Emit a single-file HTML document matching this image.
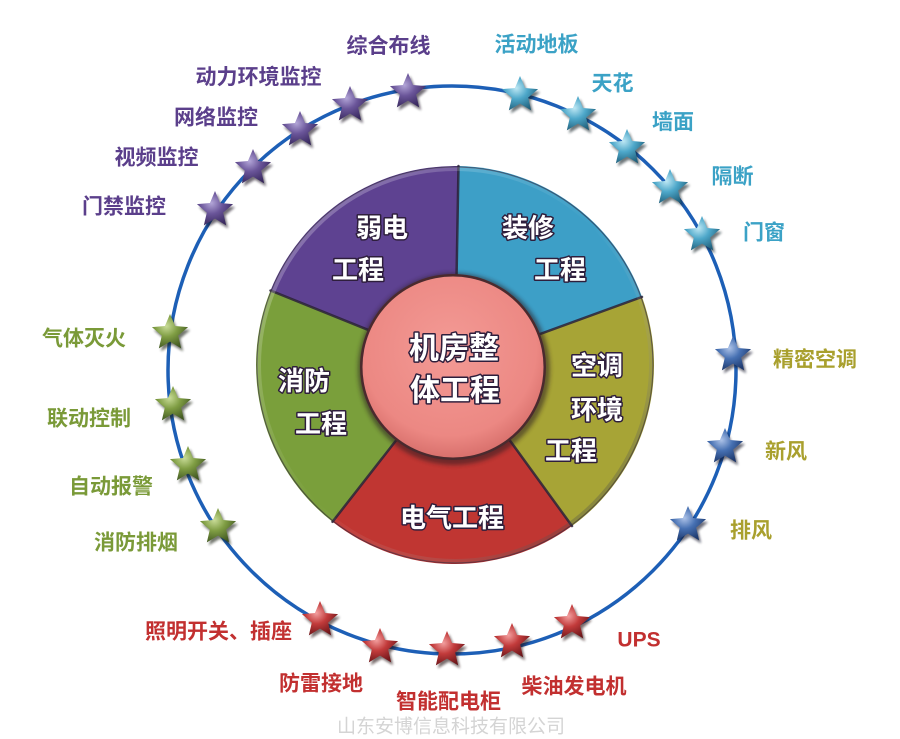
<!DOCTYPE html>
<html><head><meta charset="utf-8">
<style>
html,body{margin:0;padding:0;background:#fff}
svg{display:block}
.seg{font-family:"Liberation Sans","Noto Sans CJK SC",sans-serif;font-weight:700;font-size:26px;fill:#fff;stroke:#2e1e3c;stroke-width:3;paint-order:stroke;stroke-linejoin:round;text-anchor:middle;dominant-baseline:central}
.ctr{font-size:30px}
.l{font-family:"Liberation Sans","Noto Sans CJK SC",sans-serif;font-weight:700;font-size:21px;text-anchor:middle;dominant-baseline:central}
.wm{font-family:"Liberation Sans","Noto Sans CJK SC",sans-serif;font-weight:400;font-size:19px;fill:#d4d4d4;text-anchor:middle;dominant-baseline:central}
</style></head>
<body>
<svg width="900" height="739" viewBox="0 0 900 739" xmlns="http://www.w3.org/2000/svg">
<defs>
  <path id="st" d="M0,-19 L5.05,-6.96 L18.07,-5.87 L8.18,2.66 L11.17,15.37 L0,8.6 L-11.17,15.37 L-8.18,2.66 L-18.07,-5.87 L-5.05,-6.96Z"/>
  <filter id="sh" x="-50%" y="-50%" width="200%" height="200%"><feGaussianBlur stdDeviation="1.4"/></filter>
  <filter id="cs" x="-20%" y="-20%" width="140%" height="140%"><feGaussianBlur stdDeviation="2"/></filter>
  <radialGradient id="gP" cx="40%" cy="35%" r="70%"><stop offset="0" stop-color="#b3a6d8"/><stop offset=".45" stop-color="#6a5599"/><stop offset="1" stop-color="#35265a"/></radialGradient>
  <radialGradient id="gT" cx="40%" cy="35%" r="70%"><stop offset="0" stop-color="#bfe8f4"/><stop offset=".45" stop-color="#4ea8ca"/><stop offset="1" stop-color="#1f5d78"/></radialGradient>
  <radialGradient id="gG" cx="40%" cy="35%" r="70%"><stop offset="0" stop-color="#c9dc98"/><stop offset=".45" stop-color="#7f9d43"/><stop offset="1" stop-color="#3e5420"/></radialGradient>
  <radialGradient id="gB" cx="40%" cy="35%" r="70%"><stop offset="0" stop-color="#aec3e8"/><stop offset=".45" stop-color="#4670b2"/><stop offset="1" stop-color="#1b3568"/></radialGradient>
  <radialGradient id="gR" cx="40%" cy="35%" r="70%"><stop offset="0" stop-color="#f3a0a0"/><stop offset=".45" stop-color="#c23b3b"/><stop offset="1" stop-color="#681418"/></radialGradient>
  <radialGradient id="pk" cx="48%" cy="40%" r="60%"><stop offset="0" stop-color="#f39a95"/><stop offset=".8" stop-color="#ec8883"/><stop offset="1" stop-color="#d9716d"/></radialGradient>
  <linearGradient id="rim" x1="0" y1="0" x2="1" y2="1"><stop offset="0" stop-color="#fff" stop-opacity=".35"/><stop offset=".5" stop-color="#fff" stop-opacity="0"/><stop offset="1" stop-color="#000" stop-opacity=".45"/></linearGradient>
</defs>

<!-- outer ring -->
<circle cx="452" cy="370" r="284" fill="none" stroke="#1d5fb6" stroke-width="3.5"/>

<!-- pie -->
<g>
  <path d="M455,365 L270.5,290.5 A199,199 0 0,1 458.5,166 Z" fill="#5e4291"/>
  <path d="M455,365 L458.5,166 A199,199 0 0,1 642,296.9 Z" fill="#3d9fc7"/>
  <path d="M455,365 L642,296.9 A199,199 0 0,1 572,526 Z" fill="#a7a436"/>
  <path d="M455,365 L572,526 A199,199 0 0,1 332.5,521.8 Z" fill="#c03632"/>
  <path d="M455,365 L332.5,521.8 A199,199 0 0,1 270.5,290.5 Z" fill="#7a9f3b"/>
</g>
<g stroke="#2b2238" stroke-width="2.5" stroke-linecap="round" opacity=".85">
  <line x1="455" y1="365" x2="270.5" y2="290.5"/>
  <line x1="455" y1="365" x2="458.5" y2="166"/>
  <line x1="455" y1="365" x2="642" y2="296.9"/>
  <line x1="455" y1="365" x2="572" y2="526"/>
  <line x1="455" y1="365" x2="332.5" y2="521.8"/>
</g>
<circle cx="455" cy="365" r="198" fill="none" stroke="#2b2238" stroke-width="1.2" opacity=".6"/>
<circle cx="455" cy="365" r="196" fill="none" stroke="url(#rim)" stroke-width="4"/>

<!-- center circle -->
<circle cx="454" cy="369" r="96" fill="#2a1a22" opacity=".55" filter="url(#cs)"/>
<circle cx="453" cy="367" r="93" fill="#4a2a2e"/>
<circle cx="453" cy="367" r="90.5" fill="url(#pk)"/>

<!-- segment texts -->
<text class="seg" x="382" y="228">弱电</text>
<text class="seg" x="358" y="270">工程</text>
<text class="seg" x="528" y="228">装修</text>
<text class="seg" x="560" y="270">工程</text>
<text class="seg" x="597" y="366">空调</text>
<text class="seg" x="597" y="410">环境</text>
<text class="seg" x="571" y="451">工程</text>
<text class="seg" x="304" y="381">消防</text>
<text class="seg" x="321" y="424">工程</text>
<text class="seg" x="452" y="518">电气工程</text>
<text class="seg ctr" x="454" y="349">机房整</text>
<text class="seg ctr" x="455" y="391">体工程</text>

<!-- stars -->
<g>
  <g transform="translate(215,210)"><use href="#st" fill="#140c1c" opacity=".6" transform="translate(2,3)" filter="url(#sh)"/><use href="#st" fill="url(#gP)"/></g>
  <g transform="translate(253,168)"><use href="#st" fill="#140c1c" opacity=".6" transform="translate(2,3)" filter="url(#sh)"/><use href="#st" fill="url(#gP)"/></g>
  <g transform="translate(300,130)"><use href="#st" fill="#140c1c" opacity=".6" transform="translate(2,3)" filter="url(#sh)"/><use href="#st" fill="url(#gP)"/></g>
  <g transform="translate(350,105)"><use href="#st" fill="#140c1c" opacity=".6" transform="translate(2,3)" filter="url(#sh)"/><use href="#st" fill="url(#gP)"/></g>
  <g transform="translate(408,92)"><use href="#st" fill="#140c1c" opacity=".6" transform="translate(2,3)" filter="url(#sh)"/><use href="#st" fill="url(#gP)"/></g>

  <g transform="translate(520,95)"><use href="#st" fill="#0c1a20" opacity=".6" transform="translate(2,3)" filter="url(#sh)"/><use href="#st" fill="url(#gT)"/></g>
  <g transform="translate(578,115)"><use href="#st" fill="#0c1a20" opacity=".6" transform="translate(2,3)" filter="url(#sh)"/><use href="#st" fill="url(#gT)"/></g>
  <g transform="translate(627,148)"><use href="#st" fill="#0c1a20" opacity=".6" transform="translate(2,3)" filter="url(#sh)"/><use href="#st" fill="url(#gT)"/></g>
  <g transform="translate(670,188)"><use href="#st" fill="#0c1a20" opacity=".6" transform="translate(2,3)" filter="url(#sh)"/><use href="#st" fill="url(#gT)"/></g>
  <g transform="translate(702,235)"><use href="#st" fill="#0c1a20" opacity=".6" transform="translate(2,3)" filter="url(#sh)"/><use href="#st" fill="url(#gT)"/></g>

  <g transform="translate(170,333)"><use href="#st" fill="#141a0c" opacity=".6" transform="translate(2,3)" filter="url(#sh)"/><use href="#st" fill="url(#gG)"/></g>
  <g transform="translate(173,405)"><use href="#st" fill="#141a0c" opacity=".6" transform="translate(2,3)" filter="url(#sh)"/><use href="#st" fill="url(#gG)"/></g>
  <g transform="translate(188,465)"><use href="#st" fill="#141a0c" opacity=".6" transform="translate(2,3)" filter="url(#sh)"/><use href="#st" fill="url(#gG)"/></g>
  <g transform="translate(218,527)"><use href="#st" fill="#141a0c" opacity=".6" transform="translate(2,3)" filter="url(#sh)"/><use href="#st" fill="url(#gG)"/></g>

  <g transform="translate(733,355)"><use href="#st" fill="#0c1020" opacity=".6" transform="translate(2,3)" filter="url(#sh)"/><use href="#st" fill="url(#gB)"/></g>
  <g transform="translate(725,447)"><use href="#st" fill="#0c1020" opacity=".6" transform="translate(2,3)" filter="url(#sh)"/><use href="#st" fill="url(#gB)"/></g>
  <g transform="translate(688,525)"><use href="#st" fill="#0c1020" opacity=".6" transform="translate(2,3)" filter="url(#sh)"/><use href="#st" fill="url(#gB)"/></g>

  <g transform="translate(320,620)"><use href="#st" fill="#200c0c" opacity=".6" transform="translate(2,3)" filter="url(#sh)"/><use href="#st" fill="url(#gR)"/></g>
  <g transform="translate(380,647)"><use href="#st" fill="#200c0c" opacity=".6" transform="translate(2,3)" filter="url(#sh)"/><use href="#st" fill="url(#gR)"/></g>
  <g transform="translate(447,650)"><use href="#st" fill="#200c0c" opacity=".6" transform="translate(2,3)" filter="url(#sh)"/><use href="#st" fill="url(#gR)"/></g>
  <g transform="translate(512,642)"><use href="#st" fill="#200c0c" opacity=".6" transform="translate(2,3)" filter="url(#sh)"/><use href="#st" fill="url(#gR)"/></g>
  <g transform="translate(572,623)"><use href="#st" fill="#200c0c" opacity=".6" transform="translate(2,3)" filter="url(#sh)"/><use href="#st" fill="url(#gR)"/></g>
</g>

<!-- labels -->
<text class="l" x="388.5" y="46.5" fill="#5b3f8b">综合布线</text>
<text class="l" x="258.5" y="77.5" fill="#5b3f8b">动力环境监控</text>
<text class="l" x="216" y="118" fill="#5b3f8b">网络监控</text>
<text class="l" x="156.5" y="158" fill="#5b3f8b">视频监控</text>
<text class="l" x="124" y="207" fill="#5b3f8b">门禁监控</text>

<text class="l" x="536.5" y="45" fill="#3ba2c6">活动地板</text>
<text class="l" x="612.5" y="84" fill="#3ba2c6">天花</text>
<text class="l" x="673" y="122.5" fill="#3ba2c6">墙面</text>
<text class="l" x="732.5" y="177" fill="#3ba2c6">隔断</text>
<text class="l" x="764" y="233" fill="#3ba2c6">门窗</text>

<text class="l" x="84" y="339" fill="#7a9a38">气体灭火</text>
<text class="l" x="89" y="419" fill="#7a9a38">联动控制</text>
<text class="l" x="111" y="487" fill="#7a9a38">自动报警</text>
<text class="l" x="136" y="543" fill="#7a9a38">消防排烟</text>

<text class="l" x="815" y="360" fill="#a9a02e">精密空调</text>
<text class="l" x="786" y="452" fill="#a9a02e">新风</text>
<text class="l" x="751" y="531" fill="#a9a02e">排风</text>

<text class="l" x="218.5" y="632" fill="#c23030">照明开关、插座</text>
<text class="l" x="321" y="684" fill="#c23030">防雷接地</text>
<text class="l" x="448.5" y="702" fill="#c23030">智能配电柜</text>
<text class="l" x="574" y="687" fill="#c23030">柴油发电机</text>
<text class="l" x="639" y="640" fill="#c23030">UPS</text>

<text class="wm" x="451" y="727">山东安博信息科技有限公司</text>
</svg>
</body></html>
